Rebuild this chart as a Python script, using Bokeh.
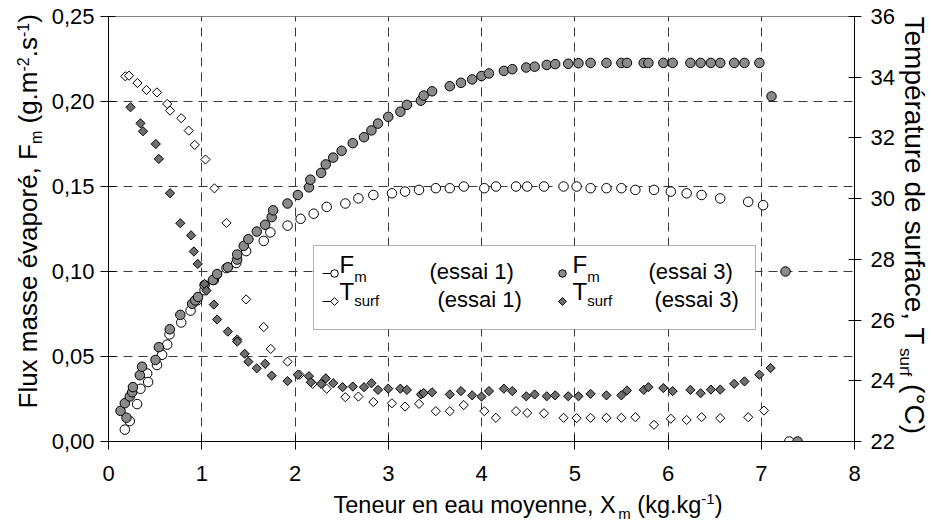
import numpy as np
from bokeh.plotting import figure
from bokeh.layouts import row, column
from bokeh.models import Range1d, LinearAxis, FixedTicker, CustomJSTickFormatter, BoxAnnotation
from bokeh.core.properties import value
from bokeh.embed import file_html
from bokeh.resources import INLINE

FONT = "Liberation Sans"

# ---------------- data ----------------
x_fm1 = [0.175, 0.228, 0.307, 0.343, 0.415, 0.425, 0.52, 0.575, 0.63, 0.654, 0.78, 0.88,
         0.95, 1.03, 1.13, 1.265, 1.37, 1.476, 1.665, 1.736, 1.92, 2.06, 2.2, 2.34, 2.54,
         2.68, 2.84, 3.04, 3.18, 3.33, 3.51, 3.66, 3.81, 4.03, 4.155, 4.37, 4.49, 4.67,
         4.88, 5.02, 5.17, 5.34, 5.5, 5.65, 5.85, 6.03, 6.2, 6.36, 6.56, 6.86, 7.02, 7.3]
fm1 = [0.007, 0.012, 0.022, 0.031, 0.040, 0.035, 0.045, 0.051, 0.057, 0.063, 0.070, 0.077,
       0.083, 0.089, 0.095, 0.102, 0.105, 0.112, 0.118, 0.123, 0.127, 0.131, 0.134, 0.138,
       0.140, 0.143, 0.145, 0.146, 0.147, 0.148, 0.149, 0.149, 0.150, 0.149, 0.150, 0.150,
       0.150, 0.150, 0.150, 0.150, 0.149, 0.149, 0.149, 0.148, 0.148, 0.147, 0.146, 0.145,
       0.143, 0.141, 0.139, 0.0]

x_fm3 = [0.129, 0.175, 0.193, 0.228, 0.254, 0.262, 0.336, 0.36, 0.504, 0.54, 0.657, 0.77,
         0.897, 0.93, 0.96, 1.03, 1.12, 1.165, 1.28, 1.38, 1.38, 1.45, 1.5, 1.59, 1.68,
         1.75, 1.765, 1.92, 2.03, 2.15, 2.165, 2.28, 2.33, 2.41, 2.5, 2.62, 2.74, 2.82,
         2.89, 3.0, 3.13, 3.2, 3.35, 3.38, 3.47, 3.66, 3.78, 3.9, 4.0, 4.08, 4.24, 4.33,
         4.48, 4.57, 4.7, 4.79, 4.93, 5.04, 5.17, 5.34, 5.5, 5.56, 5.74, 5.79, 5.95, 6.05,
         6.24, 6.35, 6.46, 6.56, 6.71, 6.82, 6.98, 7.11, 7.26, 7.39]
fm3 = [0.018, 0.0225, 0.014, 0.0265, 0.029, 0.032, 0.039, 0.044, 0.048, 0.0555, 0.066,
       0.0745, 0.081, 0.083, 0.085, 0.092, 0.095, 0.0985, 0.1025, 0.107, 0.110, 0.115,
       0.119, 0.1235, 0.1275, 0.132, 0.136, 0.140, 0.145, 0.1495, 0.154, 0.158, 0.163,
       0.167, 0.171, 0.1755, 0.179, 0.183, 0.187, 0.191, 0.194, 0.198, 0.2005, 0.2035,
       0.206, 0.209, 0.211, 0.213, 0.215, 0.2165, 0.218, 0.219, 0.220, 0.2205, 0.2215,
       0.222, 0.2222, 0.2225, 0.2227, 0.2227, 0.2227, 0.2227, 0.2227, 0.2227, 0.2227,
       0.2227, 0.2227, 0.2227, 0.2227, 0.2227, 0.2227, 0.2227, 0.2227, 0.203, 0.100, 0.0]

x_t1 = [0.18, 0.22, 0.31, 0.407, 0.52, 0.63, 0.66, 0.78, 0.86, 0.925, 1.04, 1.136, 1.265,
        1.476, 1.665, 1.74, 1.92, 2.05, 2.19, 2.34, 2.54, 2.68, 2.84, 3.04, 3.18, 3.33,
        3.51, 3.66, 3.81, 4.03, 4.155, 4.37, 4.49, 4.67, 4.88, 5.02, 5.17, 5.34, 5.5, 5.65,
        5.85, 6.03, 6.2, 6.36, 6.56, 6.86, 7.03]
t1 = [34.03, 34.05, 33.81, 33.58, 33.5, 33.12, 32.9, 32.65, 32.24, 31.77, 31.29, 30.34,
      29.2, 26.68, 25.77, 25.05, 24.63, 24.2, 23.9, 23.74, 23.46, 23.48, 23.3, 23.26, 23.15,
      23.24, 23.0, 23.0, 23.2, 23.0, 22.78, 23.0, 22.94, 22.93, 22.78, 22.77, 22.78, 22.78,
      22.78, 22.8, 22.55, 22.75, 22.71, 22.8, 22.77, 22.8, 23.02]

x_t3 = [0.236, 0.343, 0.37, 0.507, 0.54, 0.66, 0.77, 0.886, 0.915, 0.957, 1.03, 1.05, 1.13,
        1.165, 1.28, 1.38, 1.38, 1.46, 1.5, 1.59, 1.68, 1.75, 1.92, 2.03, 2.15, 2.17, 2.28,
        2.33, 2.41, 2.51, 2.62, 2.74, 2.82, 2.89, 3.0, 3.13, 3.2, 3.35, 3.38, 3.47, 3.66,
        3.78, 3.9, 4.0, 4.08, 4.24, 4.33, 4.48, 4.57, 4.7, 4.79, 4.93, 5.04, 5.17, 5.34,
        5.5, 5.56, 5.74, 5.79, 5.95, 6.05, 6.24, 6.35, 6.46, 6.56, 6.71, 6.82, 6.98, 7.1]
t3 = [33.01, 32.48, 32.22, 31.8, 31.31, 30.18, 29.19, 28.79, 28.26, 27.85, 27.19, 26.97,
      26.51, 26.02, 25.62, 25.36, 25.29, 24.89, 24.63, 24.41, 24.56, 24.17, 23.99, 24.2,
      24.15, 23.95, 23.9, 24.08, 23.92, 23.79, 23.81, 23.79, 23.92, 23.7, 23.74, 23.74,
      23.7, 23.55, 23.6, 23.62, 23.55, 23.66, 23.52, 23.48, 23.66, 23.74, 23.66, 23.49,
      23.55, 23.49, 23.52, 23.49, 23.49, 23.57, 23.52, 23.52, 23.68, 23.7, 23.79, 23.76,
      23.66, 23.7, 23.59, 23.71, 23.71, 23.9, 23.98, 24.2, 24.42]

x_ticks = [0, 1, 2, 3, 4, 5, 6, 7, 8]
fm_ticks = [0.0, 0.05, 0.10, 0.15, 0.20, 0.25]
t_ticks = [22, 24, 26, 28, 30, 32, 34, 36]

# ---------------- layout (page pixels) ----------------
PW, PH = 931, 530
L, R, T, B = 108, 854, 16, 441          # frame edges
MX0, MX1, MY1 = 45, 895, 490            # main figure occupies x MX0..MX1, y 0..MY1
XMIN, XMAX, YMIN, YMAX, TMIN, TMAX = 0, 8, 0, 0.25, 22, 36


def dx(px):
    return XMIN + (px - L) / (R - L) * (XMAX - XMIN)


def dy(py):
    return YMIN + (B - py) / (B - T) * (YMAX - YMIN)


p = figure(frame_width=R - L, frame_height=B - T,
           min_border_left=L - MX0, min_border_right=MX1 - R,
           min_border_top=T, min_border_bottom=MY1 - B,
           x_range=Range1d(XMIN, XMAX), y_range=Range1d(YMIN, YMAX), title=None,
           output_backend="svg", toolbar_location=None)
p.extra_y_ranges = {"T": Range1d(TMIN, TMAX)}
p.outline_line_color = "#808080"
p.background_fill_color = "white"
p.border_fill_color = "white"

TICK_FS = "22px"


def style_axis(ax):
    ax.axis_line_color = "black"
    ax.major_tick_line_color = "black"
    ax.minor_tick_line_color = None
    ax.major_label_text_font = FONT
    ax.major_label_text_font_size = TICK_FS
    ax.major_label_text_color = "black"


style_axis(p.xaxis[0])
p.xaxis.ticker = FixedTicker(ticks=x_ticks)
p.xaxis.major_tick_in = 6
p.xaxis.major_tick_out = 8
p.xaxis.major_label_standoff = 16

style_axis(p.yaxis[0])
p.yaxis.ticker = FixedTicker(ticks=fm_ticks)
p.yaxis.formatter = CustomJSTickFormatter(code="return tick.toFixed(2).replace('.', ',');")
p.yaxis.major_tick_in = 7
p.yaxis.major_tick_out = 8
p.yaxis.major_label_standoff = 6

ax_r = LinearAxis(y_range_name="T", ticker=FixedTicker(ticks=t_ticks))
style_axis(ax_r)
ax_r.major_tick_in = 6
ax_r.major_tick_out = 7
ax_r.major_label_standoff = 9
p.add_layout(ax_r, "right")

p.xgrid.ticker = FixedTicker(ticks=x_ticks[1:-1])
p.ygrid.ticker = FixedTicker(ticks=fm_ticks[1:-1])
for g in (p.xgrid[0], p.ygrid[0]):
    g.grid_line_color = "#3a3a3a"
    g.grid_line_dash = "9 6"
    g.grid_line_width = 1

# ---------------- data marks ----------------
CIRC_FILL = "#8a8a8a"
DIAM_FILL = "#6e6e6e"
p.scatter(x_fm1, fm1, marker="circle", size=9.5, fill_color="white", line_color="black", line_width=1)
p.scatter(x_fm3, fm3, marker="circle", size=9.5, fill_color=CIRC_FILL, line_color="black", line_width=1)
p.scatter(x_t1, t1, marker="square", angle=np.pi / 4, size=6.5, fill_color="white",
          line_color="black", line_width=1, y_range_name="T")
p.scatter(x_t3, t3, marker="square", angle=np.pi / 4, size=6.5, fill_color=DIAM_FILL,
          line_color="black", line_width=1, y_range_name="T")

# ---------------- text helpers (Arial / Liberation Sans advance widths) ----------------
AW = {' ': 278, '(': 333, ')': 333, ',': 278, '-': 333, '.': 278, '°': 400,
      '0': 556, '1': 556, '2': 556, '3': 556, '4': 556, '5': 556, '6': 556, '7': 556, '8': 556, '9': 556,
      'C': 722, 'F': 611, 'T': 611, 'X': 667,
      'a': 556, 'c': 500, 'd': 556, 'e': 556, 'é': 556, 'f': 278, 'g': 556, 'i': 222, 'k': 500,
      'l': 222, 'm': 833, 'n': 556, 'o': 556, 'p': 556, 'r': 333, 's': 500, 't': 278,
      'u': 556, 'v': 500, 'x': 500, 'y': 500}
MID = 0.35   # distance from baseline to the vertical middle of a line, in em


def tw(s, size):
    return sum(AW.get(c, 556) for c in s) * size / 1000.0


def runs(fig, parts, x0, y0, direction="h", conv=None, level=None):
    """Place text pieces (text, size, raise) one after another; (x0, y0) is the baseline start."""
    pos = 0.0
    for txt, size, shift in parts:
        lead = len(txt) - len(txt.lstrip(" "))
        off = pos + tw(" " * lead, size)
        up = shift + MID * size
        if direction == "h":
            px, py, ang = x0 + off, y0 - up, 0.0
        elif direction == "up":
            px, py, ang = x0 - up, y0 - off, np.pi / 2
        else:
            px, py, ang = x0 + up, y0 + off, -np.pi / 2
        if conv is not None:
            px, py = conv(px, py)
        r = fig.text(x=[px], y=[py], text=[txt.strip()], angle=ang,
                     text_font=value(FONT), text_font_size=value(f"{size}px"),
                     text_align="left", text_baseline="middle", text_color="black")
        if level:
            r.level = level
        pos += tw(txt, size)
    return pos


def text_fig(w, h, xr, yr, **kw):
    f = figure(width=w, height=h, x_range=Range1d(*xr), y_range=Range1d(*yr),
               x_axis_type=None, y_axis_type=None, title=None,
               output_backend="svg", toolbar_location=None, **kw)
    f.outline_line_color = None
    f.background_fill_color = "white"
    f.border_fill_color = "white"
    return f


# side strips: full page height; ranges are page pixels
left_f = text_fig(MX0, PH, (0, MX0), (PH, 0), min_border=0)
right_f = text_fig(PW - MX1, PH, (MX1, PW), (PH, 0), min_border=0)
# bottom strip under the main figure; its frame lines up with the main frame (x = L..R)
bottom_f = text_fig(MX1 - MX0, PH - MY1, (L, R), (PH, MY1),
                    frame_width=R - L, frame_height=PH - MY1,
                    min_border_left=L - MX0, min_border_right=MX1 - R,
                    min_border_top=0, min_border_bottom=0)

S, s = 23.5, 15
xt = [("Teneur en eau moyenne, X", S, 0), ("m", s, -5), (" (kg.kg", S, 0), ("-1", s, 9), (")", S, 0)]
runs(bottom_f, xt, 333, 513, "h")
S2, s2 = 26, 16
lt = [("Flux masse évaporé, F", S2, 0), ("m", s2, -5), (" (g.m", S2, 0), ("-2", s2, 9),
      (".s", S2, 0), ("-1", s2, 9), (")", S2, 0)]
runs(left_f, lt, 37, 408, "up")
S3, s3 = 28, 17
rt = [("Température de surface, T", S3, 0), ("surf", s3, -5), (" (°C)", S3, 0)]
runs(right_f, rt, 902, 16, "down")

# ---------------- legend ----------------
p.add_layout(BoxAnnotation(left=dx(313), right=dx(755), top=dy(245), bottom=dy(329),
                           fill_color="white", fill_alpha=1, line_color="black",
                           line_width=1, level="annotation"))
LS, LB, ls = 22, 24, 15
rows = [273, 301]
C1, C2 = 334, 562
seg = p.segment(x0=[dx(C1 - 12)] * 2, y0=[dy(rows[0]), dy(rows[1])],
                x1=[dx(C1 - 3)] * 2, y1=[dy(rows[0]), dy(rows[1])],
                line_color="black", line_width=1)
seg.level = "overlay"
r1 = p.scatter([dx(C1), dx(C2)], [dy(rows[0])] * 2, marker="circle", size=7.5,
               fill_color=["white", CIRC_FILL], line_color="black", line_width=1)
r1.level = "overlay"
r2 = p.scatter([dx(C1), dx(C2)], [dy(rows[1])] * 2, marker="square", angle=np.pi / 4, size=5.5,
               fill_color=["white", DIAM_FILL], line_color="black", line_width=1)
r2.level = "overlay"

cv = lambda a, b: (dx(a), dy(b))
runs(p, [("F", LB, 0), ("m", ls, -9)], C1 + 5, 272, "h", cv, "overlay")
runs(p, [("(essai 1)", LS, 0)], 429, 279, "h", cv, "overlay")
runs(p, [("F", LB, 0), ("m", ls, -9)], C2 + 10, 272, "h", cv, "overlay")
runs(p, [("(essai 3)", LS, 0)], 648, 279, "h", cv, "overlay")
runs(p, [("T", LB, 0), ("surf", ls, -6)], C1 + 5, 299, "h", cv, "overlay")
runs(p, [("(essai 1)", LS, 0)], 437, 307, "h", cv, "overlay")
runs(p, [("T", LB, 0), ("surf", ls, -6)], C2 + 10, 299, "h", cv, "overlay")
runs(p, [("(essai 3)", LS, 0)], 654, 307, "h", cv, "overlay")

layout = row(left_f, column(p, bottom_f, spacing=0), right_f, spacing=0)
open("out.html", "w").write(file_html(layout, INLINE))
